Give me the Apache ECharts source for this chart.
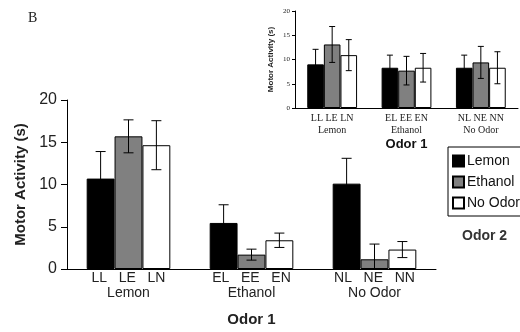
<!DOCTYPE html>
<html><head><meta charset="utf-8">
<script src="https://cdn.jsdelivr.net/npm/echarts@6/dist/echarts.min.js"></script>
<style>html,body{margin:0;padding:0;background:#fff}#c{width:520px;height:332px}</style>
</head><body><div id="c"></div>
<script>
// Odor 1 groups
const groups = ['Lemon', 'Ethanol', 'No Odor'];
const mainSub = [['LL','LE','LN'], ['EL','EE','EN'], ['NL','NE','NN']];
// Odor 2 series
const seriesNames = ['Lemon', 'Ethanol', 'No Odor'];
const seriesColors = ['#000000', '#808080', '#ffffff'];
// Main panel values (mean, SEM) per Odor 2 series across Odor 1 groups
const mainLemon = [10.7, 5.45, 10.1];
const mainLemonErr = [3.2, 2.15, 3.0];
const mainEthanol = [15.7, 1.7, 1.15];
const mainEthanolErr = [1.95, 0.65, 1.8];
const mainNoOdor = [14.65, 3.4, 2.3];
const mainNoOdorErr = [2.9, 0.85, 0.95];
// Inset panel values
const insetLemon = [9.0, 8.3, 8.3];
const insetLemonErr = [3.1, 2.6, 2.6];
const insetEthanol = [13.1, 7.7, 9.4];
const insetEthanolErr = [3.7, 2.95, 3.3];
const insetNoOdor = [10.9, 8.3, 8.3];
const insetNoOdorErr = [3.2, 2.95, 3.3];
const yTicks = [0, 5, 10, 15, 20];

const mainVals = [mainLemon, mainEthanol, mainNoOdor];
const mainErrs = [mainLemonErr, mainEthanolErr, mainNoOdorErr];
const insetVals = [insetLemon, insetEthanol, insetNoOdor];
const insetErrs = [insetLemonErr, insetEthanolErr, insetNoOdorErr];

const SANS = 'Liberation Sans';
const SERIF = 'Liberation Serif';
const gapMain = 0.32, gapInset = 0.33;

function errSeries(gridIdx, si, vals, errs, gap, cap) {
  return {
    type: 'custom', xAxisIndex: gridIdx, yAxisIndex: gridIdx, z: 5,
    silent: true,
    data: vals.map((v, i) => [i, v, errs[i]]),
    renderItem: function (params, api) {
      const idx = api.value(0), m = api.value(1), e = api.value(2);
      const band = api.size([1, 0])[0];
      const bw = band * (1 - gap) / 3;
      const x = api.coord([idx, 0])[0] + (si - 1) * bw;
      const yT = api.coord([idx, m + e])[1];
      const yB = api.coord([idx, Math.max(0, m - e)])[1];
      const st = { stroke: '#000', lineWidth: 1 };
      return { type: 'group', children: [
        { type: 'line', shape: { x1: x, y1: yT, x2: x, y2: yB }, style: st },
        { type: 'line', shape: { x1: x - cap, y1: yT, x2: x + cap, y2: yT }, style: st },
        { type: 'line', shape: { x1: x - cap, y1: yB, x2: x + cap, y2: yB }, style: st }
      ]};
    }
  };
}

const series = [];
for (let s = 0; s < 3; s++) {
  series.push({
    name: seriesNames[s], type: 'bar', xAxisIndex: 0, yAxisIndex: 0,
    data: mainVals[s], barGap: '0%', barCategoryGap: (gapMain * 100) + '%',
    itemStyle: { color: seriesColors[s], borderColor: '#000', borderWidth: 1 }
  });
}
for (let s = 0; s < 3; s++) {
  series.push({
    name: seriesNames[s], type: 'bar', xAxisIndex: 1, yAxisIndex: 1,
    data: insetVals[s], barGap: '0%', barCategoryGap: (gapInset * 100) + '%',
    itemStyle: { color: seriesColors[s], borderColor: '#000', borderWidth: 1 }
  });
}
for (let s = 0; s < 3; s++) series.push(errSeries(0, s, mainVals[s], mainErrs[s], gapMain, 5));
for (let s = 0; s < 3; s++) series.push(errSeries(1, s, insetVals[s], insetErrs[s], gapInset, 3));

const chart = echarts.init(document.getElementById('c'), null, { renderer: 'canvas' });
chart.setOption({
  animation: false,
  backgroundColor: '#fff',
  grid: [
    { left: 67, right: 84, top: 100, bottom: 60 },
    { left: 295, right: 2, top: 11, bottom: 224 }
  ],
  legend: {
    data: seriesNames, orient: 'vertical', left: 448, top: 147,
    borderColor: '#000', borderWidth: 1, padding: [7, 30, 6, 4],
    itemWidth: 11, itemHeight: 11, itemGap: 7, icon: 'rect',
    textStyle: { fontFamily: SANS, fontSize: 14, color: '#111', padding: [0, 0, 0, -2] }
  },
  xAxis: [
    {
      type: 'category', gridIndex: 0, data: groups,
      axisLine: { lineStyle: { color: '#000', width: 1 } },
      axisTick: { length: 4, lineStyle: { color: '#000' } },
      axisLabel: {
        margin: 2, interval: 0,
        formatter: function (v, i) { return '{a|' + mainSub[i].join('   ') + '}\n{b|' + v + '}'; },
        rich: {
          a: { fontFamily: SANS, fontSize: 14, color: '#222', lineHeight: 15 },
          b: { fontFamily: SANS, fontSize: 14, color: '#222', lineHeight: 15 }
        }
      },
      name: 'Odor 1', nameLocation: 'middle', nameGap: 43,
      nameTextStyle: { fontFamily: SANS, fontSize: 15, fontWeight: 'bold', color: '#222' }
    },
    {
      type: 'category', gridIndex: 1, data: groups,
      axisLine: { lineStyle: { color: '#000', width: 1 } },
      axisTick: { length: 3, lineStyle: { color: '#000' } },
      axisLabel: {
        margin: 4, interval: 0,
        formatter: function (v, i) { return '{a|' + mainSub[i].join(' ') + '}\n{b|' + v + '}'; },
        rich: {
          a: { fontFamily: SERIF, fontSize: 10, color: '#222', lineHeight: 12 },
          b: { fontFamily: SERIF, fontSize: 10, color: '#222', lineHeight: 12 }
        }
      },
      name: 'Odor 1', nameLocation: 'middle', nameGap: 30,
      nameTextStyle: { fontFamily: SANS, fontSize: 13, fontWeight: 'bold', color: '#111' }
    }
  ],
  yAxis: [
    {
      type: 'value', gridIndex: 0, min: yTicks[0], max: yTicks[yTicks.length - 1], interval: 5,
      axisLine: { show: true, lineStyle: { color: '#000' } },
      axisTick: { show: true, length: 6, lineStyle: { color: '#000' } },
      splitLine: { show: false },
      axisLabel: { margin: 10, fontFamily: SANS, fontSize: 16, color: '#222' },
      name: 'Motor Activity (s)', nameLocation: 'middle', nameGap: 38,
      nameTextStyle: { fontFamily: SANS, fontSize: 15, fontWeight: 'bold', color: '#222' }
    },
    {
      type: 'value', gridIndex: 1, min: yTicks[0], max: yTicks[yTicks.length - 1], interval: 5,
      axisLine: { show: true, lineStyle: { color: '#000' } },
      axisTick: { show: true, length: 3, lineStyle: { color: '#000' } },
      splitLine: { show: false },
      axisLabel: { margin: 5, fontFamily: SERIF, fontSize: 7, color: '#222' },
      name: 'Motor Activity (s)', nameLocation: 'middle', nameGap: 20,
      nameTextStyle: { fontFamily: SANS, fontSize: 8, fontWeight: 'bold', color: '#222' }
    }
  ],
  graphic: [
    { type: 'text', left: 28, top: 11, style: { text: 'B', font: '14px "Liberation Serif"', fill: '#222' } },
    { type: 'text', left: 462, top: 229, style: { text: 'Odor 2', font: 'bold 14px "Liberation Sans"', fill: '#333' } }
  ],
  series: series
});
</script></body></html>
